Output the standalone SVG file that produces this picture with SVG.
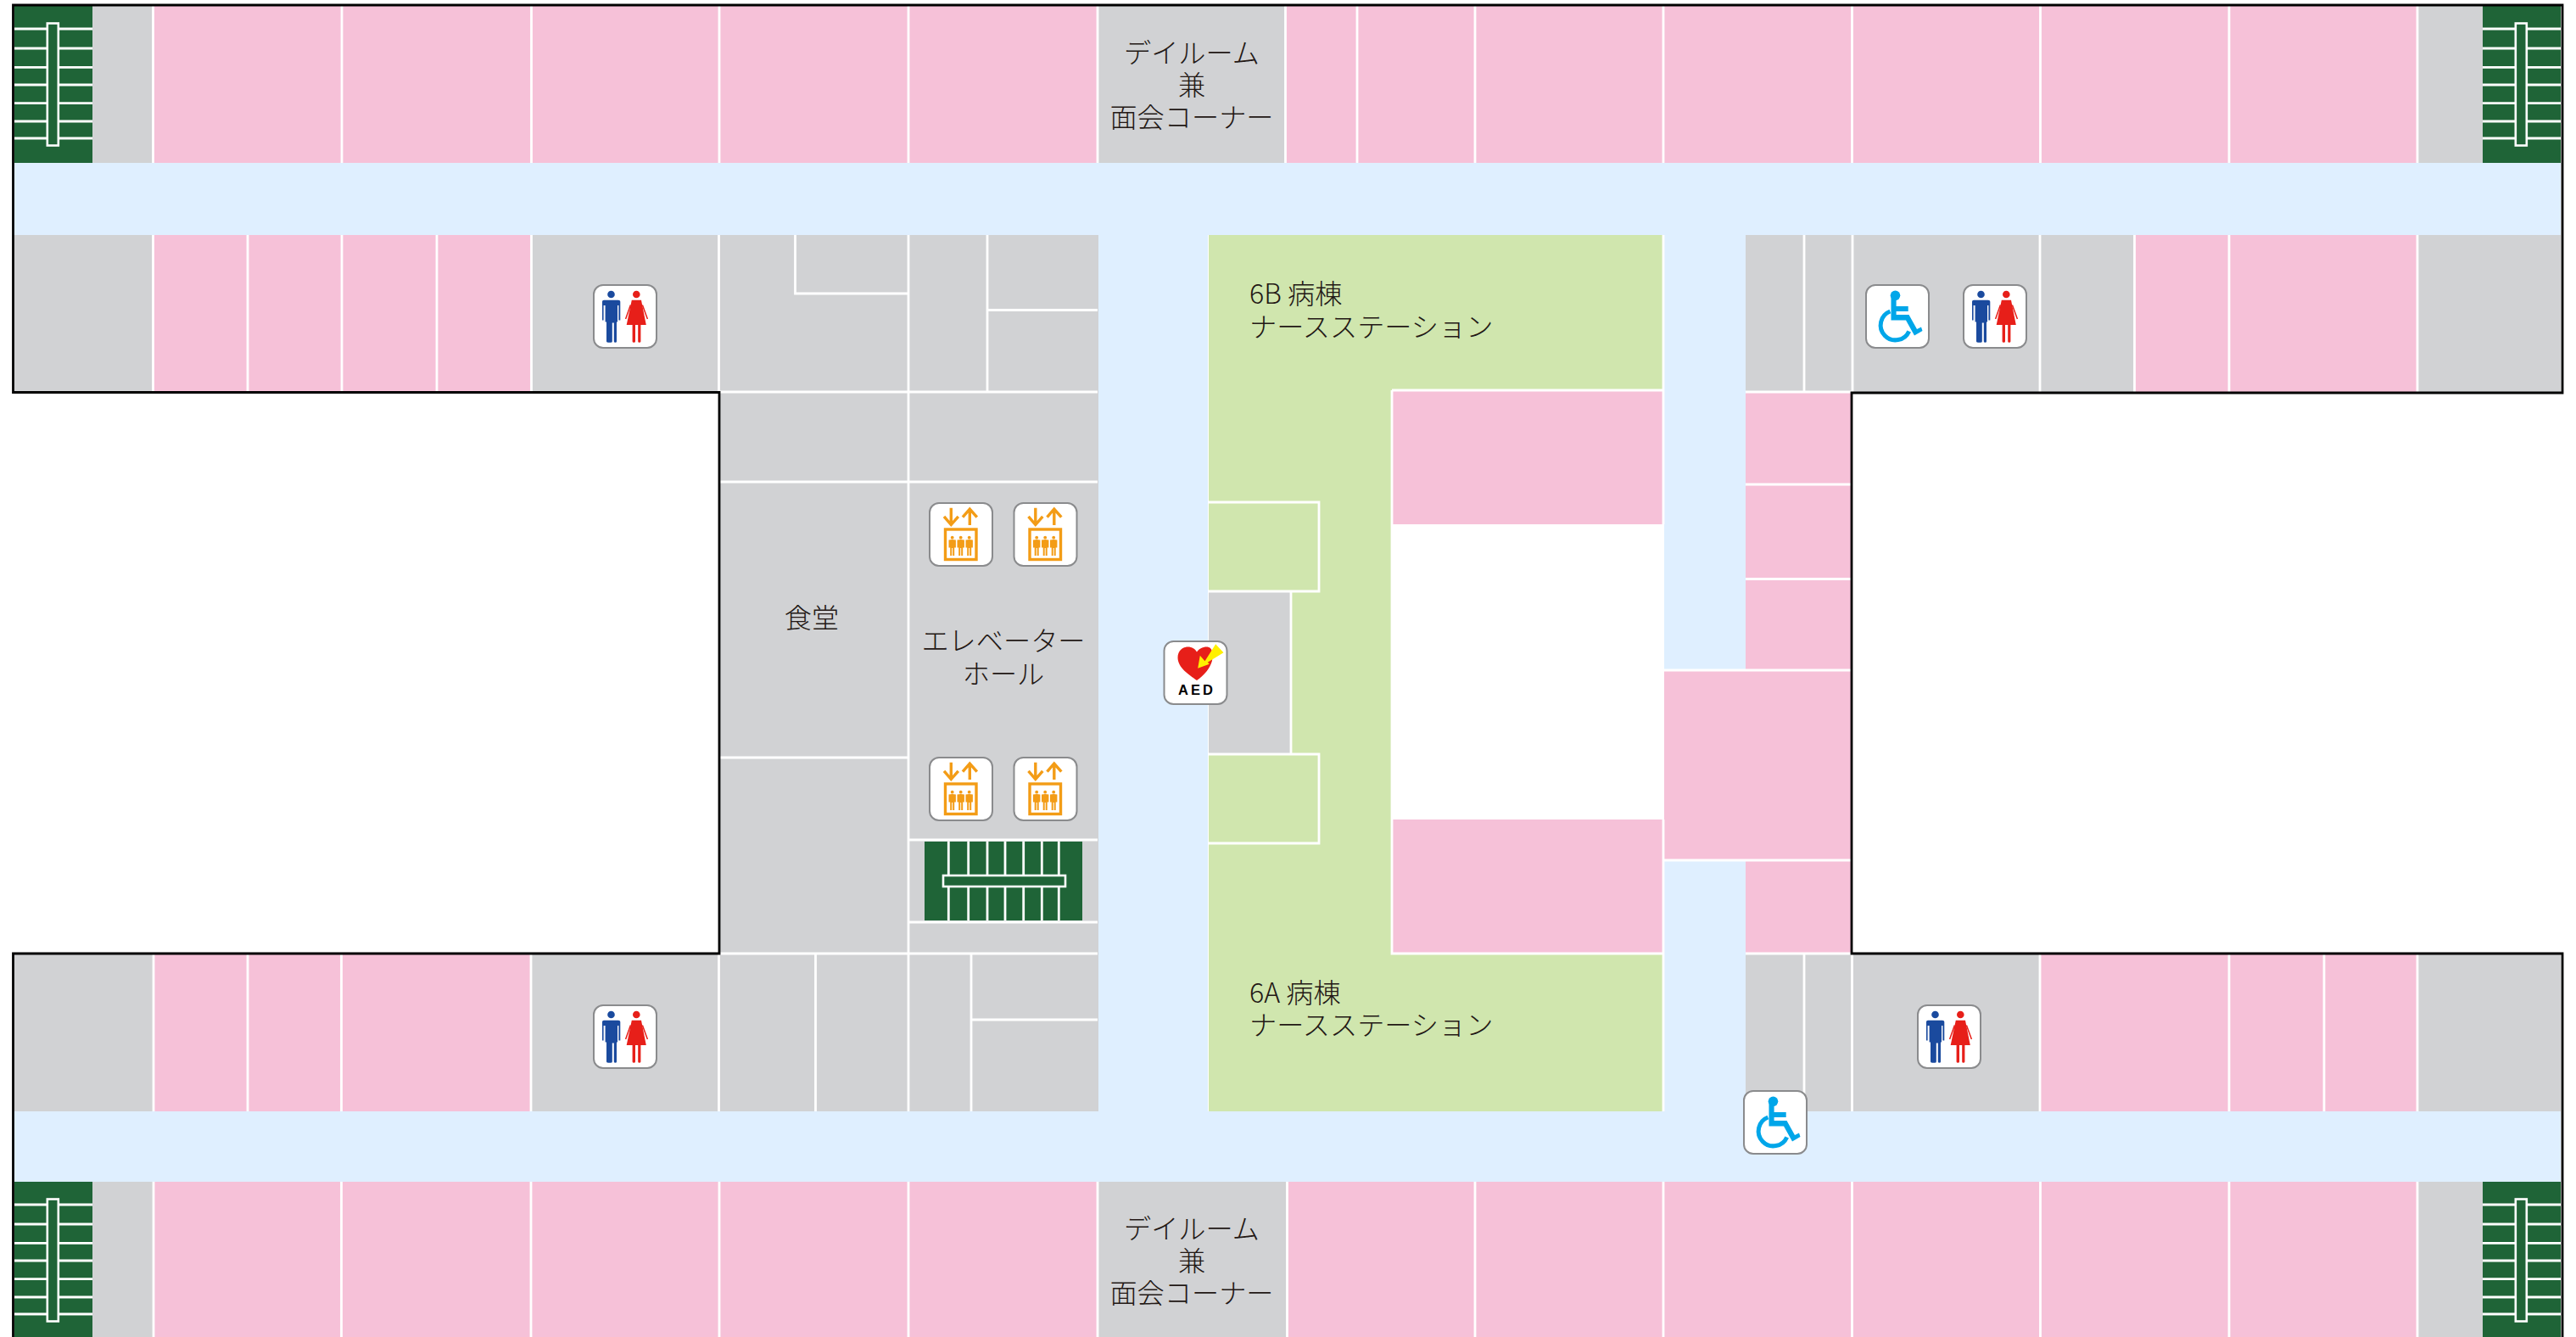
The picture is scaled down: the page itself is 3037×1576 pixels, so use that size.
<svg xmlns="http://www.w3.org/2000/svg" xmlns:xlink="http://www.w3.org/1999/xlink" width="3037" height="1576" viewBox="0 0 3037 1576">
<style>
.pk{fill:#F6C1D8}.gy{fill:#D1D2D4}.cr{fill:#DFEFFF}.gn{fill:#D0E6AE}.st{fill:#1F6437}
.w{fill:none;stroke:#fff;stroke-width:2.8}
.b{fill:none;stroke:#000;stroke-width:2.8}
.box{fill:#fff;stroke:#8A8B8D;stroke-width:2}
.t{font-family:"Noto Sans CJK JP","Noto Sans",sans-serif;font-weight:300;font-size:32.2px;fill:#231815}
.m{text-anchor:middle}
.man{fill:#1A4A9E}.wom{fill:#E71F19}
.el{fill:#F39C16}.els{fill:none;stroke:#F39C16;stroke-width:3.4}
.wc{fill:#00A6E9}.wcs{fill:none;stroke:#00A6E9;stroke-width:5}
.srail{fill:#1F6437;stroke:#fff;stroke-width:2.6}
</style>
<defs>
<symbol id="toilet" viewBox="0 0 76 76" width="76" height="76" overflow="visible">
<rect class="box" x="1" y="1" width="74" height="74" rx="11"/>
<circle class="man" cx="21.5" cy="12" r="4.3"/>
<path class="man" d="M11 20.5Q11 18.7 13 18.7H30Q32.3 18.7 32.3 20.5V42.5H30.4V25H29V44.5H28V67.5Q28 68.8 26.5 68.8Q24.9 68.8 24.8 67.5V45.5H22.8V67.5Q22.8 68.8 21 68.8H18.3Q16.3 68.8 16 67.5V44.5H14.6V25H12.6V42.5H11Z"/>
<circle class="wom" cx="51.3" cy="12" r="4.3"/>
<path class="wom" d="M45.8 18.7H57L62.8 48H56.4V67.5Q56.4 68.8 54.8 68.8Q53.2 68.8 53.2 67.5V48H50V67.5Q50 68.8 48.3 68.8Q46.6 68.8 46.6 67.5V48H39.7Z"/>
<path d="M44.4 24.5L38.6 41M58.4 24.5L64.4 41" fill="none" stroke="#E71F19" stroke-width="1.5"/>
</symbol>
<symbol id="wheel" viewBox="0 0 76 76" width="76" height="76" overflow="visible">
<rect class="box" x="1" y="1" width="74" height="74" rx="11"/>
<circle class="wc" cx="35.5" cy="13.3" r="5.8"/>
<path class="wc" d="M30.5 13H36.6V26H50.7V32H36.6V36H51.5L61 53L66 50.500L67.500 55L58 60.5L48 42.5H30.5Z"/>
<path class="wcs" d="M29.400 32A17.500 17.500 0 1 0 51.700 55.400"/>
</symbol>
<symbol id="lift" viewBox="0 0 76 76" width="76" height="76" overflow="visible">
<rect class="box" x="1" y="1" width="74" height="74" rx="11"/>
<path class="els" d="M26.3 6.7V25M18 16.8L26.3 26.5L34.8 16.8M48.3 27V8M40 17.6L48.3 8L56.8 17.6"/>
<rect class="els" x="19.5" y="32" width="36.5" height="35.5"/>
<g id="fig"><circle class="el" cx="27.7" cy="41.7" r="1.9"/><path class="el" d="M23.5 44.5Q27.7 43.5 31.9 44.5V53.5H30.2V63H28.2V54H27.2V63H25.2V53.5H23.5Z"/></g>
<use href="#fig" x="10"/><use href="#fig" x="20"/>
</symbol>
<symbol id="aedicon" viewBox="0 0 76 76" width="76" height="76" overflow="visible">
<rect class="box" x="1" y="1" width="74" height="74" rx="11"/>
<path fill="#E71F19" d="M39.5 47C30 40 17 32 17 20C17 12 23 7.5 29 7.5C34 7.5 37.500 10 39.500 13.500C42 10 46 7.500 51 7.500C58 7.500 59 15 57.500 24C55 33 48 41 39.500 47Z"/>
<path fill="#FFF000" d="M40.700 32.700L43.300 17.700L49 24.300L61.700 4.300L71 14.300L52.300 25.700L54.300 27.700Z"/>
<text x="39.500" y="64" text-anchor="middle" style="font-family:'Liberation Sans',sans-serif;font-weight:700;font-size:16.500px;letter-spacing:3px;fill:#000">AED</text>
</symbol>
<g id="stairV">
<rect class="st" x="0" y="0" width="92" height="185"/>
<path class="w" d="M0 27H92M0 50H92M0 72.400H92M0 93H92M0 114.700H92M0 136H92M0 156H92"/>
<rect class="srail" x="38.800" y="20.500" width="13" height="144"/>
</g>
</defs>

<g id="corridors">
<rect class="cr" x="17" y="192" width="3002" height="85"/>
<rect class="cr" x="17" y="1310" width="3002" height="83"/>
<rect class="cr" x="1295" y="192" width="129" height="1201"/>
<rect class="cr" x="1962" y="192" width="96" height="1201"/>
</g>

<g id="rooms-pink">
<rect class="pk" x="181" y="7" width="1114" height="185"/>
<rect class="pk" x="1515" y="7" width="1335" height="185"/>
<rect class="pk" x="181" y="277" width="445" height="185"/>
<rect class="pk" x="2516" y="277" width="334" height="185"/>
<rect class="pk" x="181" y="1124" width="445" height="186"/>
<rect class="pk" x="2405" y="1124" width="445" height="186"/>
<rect class="pk" x="181" y="1393" width="1114" height="183"/>
<rect class="pk" x="1517" y="1393" width="1333" height="183"/>
<rect class="pk" x="1641" y="460" width="320" height="158"/>
<rect class="pk" x="1641" y="966" width="320" height="158"/>
<rect class="pk" x="2058" y="463" width="125" height="327"/>
<rect class="pk" x="1962" y="790" width="221" height="224"/>
<rect class="pk" x="2058" y="1014" width="125" height="110"/>
</g>

<g id="rooms-gray">
<rect class="gy" x="109" y="7" width="72" height="185"/>
<rect class="gy" x="2850" y="7" width="77" height="185"/>
<rect class="gy" x="17" y="277" width="164" height="185"/>
<rect class="gy" x="626" y="277" width="669" height="185"/>
<rect class="gy" x="848" y="462" width="447" height="662"/>
<rect class="gy" x="2058" y="277" width="458" height="185"/>
<rect class="gy" x="2850" y="277" width="169" height="185"/>
<rect class="gy" x="17" y="1124" width="164" height="186"/>
<rect class="gy" x="626" y="1124" width="669" height="186"/>
<rect class="gy" x="2058" y="1124" width="347" height="186"/>
<rect class="gy" x="2850" y="1124" width="169" height="186"/>
<rect class="gy" x="109" y="1393" width="72" height="183"/>
<rect class="gy" x="2850" y="1393" width="77" height="183"/>
<rect class="gy" x="1295" y="7" width="220" height="185"/>
<rect class="gy" x="1295" y="1393" width="222" height="183"/>
</g>

<g id="nurse-station">
<path class="gn" d="M1425 277H1961V460H1641V1124H1961V1310H1425Z"/>
<rect class="gy" x="1425" y="697" width="97" height="192"/>
</g>

<g id="stairs">
<use href="#stairV" x="17" y="7"/>
<use href="#stairV" x="2927" y="7"/>
<use href="#stairV" x="17" y="1393"/>
<use href="#stairV" x="2927" y="1393"/>
<rect class="st" x="1090" y="992" width="186" height="93"/>
<path class="w" d="M1118.300 992V1085M1141.700 992V1085M1164 992V1085M1185 992V1085M1206.700 992V1085M1228.300 992V1085M1248.300 992V1085"/>
<rect class="srail" x="1112" y="1032" width="144" height="13"/>
</g>

<g id="walls">
<path class="w" d="M180.500 7V192M403 7V192M626.500 7V192M848 7V192M1071 7V192M1294 7V192M1515.500 7V192M1600 7V192M1739 7V192M1961 7V192M2183.500 7V192M2405.500 7V192M2628 7V192M2850 7V192"/>
<path class="w" d="M180.500 277V462M292 277V462M403 277V462M515 277V462M626.500 277V462M847.500 277V1124M1071 277V1124M937.500 277V346H1071M1164 277V462M1164 365.500H1294M848 462H1294M848 568H1294M848 893H1071M1071 990H1294M1071 1087H1294M848 1124H1294"/>
<path class="w" d="M2058 462H2183M2127 277V462M2184 277V462M2405 277V462M2516.500 277V462M2628 277V462M2850 277V462"/>
<path class="w" d="M2058 571H2183M2058 682.500H2183M1962 790H2183M1962 1014H2183M1961 277V460M1961 1124V1310M1641 460H1961V618M1641 460V1124H1961M1961 966V1124M2058 1124H2183"/>
<path class="w" d="M1425 592H1555V697H1425M1522 697V889M1425 889H1555V994H1425"/>
<path class="w" d="M181 1124V1310M292 1124V1310M402.500 1124V1310M626 1124V1310M847.500 1124V1310M961.500 1124V1310M1071 1124V1310M1145 1124V1310M1145 1202H1294"/>
<path class="w" d="M2127 1124V1310M2183.500 1124V1310M2405 1124V1310M2628 1124V1310M2740 1124V1310M2850 1124V1310"/>
<path class="w" d="M181 1393V1576M402.500 1393V1576M626 1393V1576M848 1393V1576M1071 1393V1576M1294 1393V1576M1517.500 1393V1576M1739 1393V1576M1961 1393V1576M2183.500 1393V1576M2405.500 1393V1576M2628 1393V1576M2850 1393V1576"/>
</g>

<g id="outline">
<path class="b" d="M15.500 1576V1124H848V462.500H15.500V6H3021V463H2183V1124H3021V1576"/>
</g>

<g id="labels">
<text class="t m" x="1405" y="74">デイルーム</text>
<text class="t m" x="1405" y="112">兼</text>
<text class="t m" x="1405" y="150">面会コーナー</text>
<text class="t m" x="1405" y="1460">デイルーム</text>
<text class="t m" x="1405" y="1498">兼</text>
<text class="t m" x="1405" y="1536">面会コーナー</text>
<text class="t" x="1473" y="358">6B 病棟</text>
<text class="t" x="1473" y="397">ナースステーション</text>
<text class="t" x="1473" y="1182">6A 病棟</text>
<text class="t" x="1473" y="1220">ナースステーション</text>
<text class="t m" x="957" y="740">食堂</text>
<text class="t m" x="1183" y="767">エレベーター</text>
<text class="t m" x="1183" y="806">ホール</text>
</g>

<g id="icons">
<use id="wc-1" href="#toilet" x="699" y="335"/>
<use id="wc-2" href="#toilet" x="2314" y="335"/>
<use id="wc-3" href="#toilet" x="699" y="1184"/>
<use id="wc-4" href="#toilet" x="2260" y="1184"/>
<use id="accessible-1" href="#wheel" x="2199" y="335"/>
<use id="accessible-2" href="#wheel" x="2055" y="1285"/>
<use id="lift-1" href="#lift" x="1095" y="592"/>
<use id="lift-2" href="#lift" x="1194.500" y="592"/>
<use id="lift-3" href="#lift" x="1095" y="892"/>
<use id="lift-4" href="#lift" x="1194.500" y="892"/>
<use id="aed" href="#aedicon" x="1371.500" y="755"/>
</g>
</svg>
